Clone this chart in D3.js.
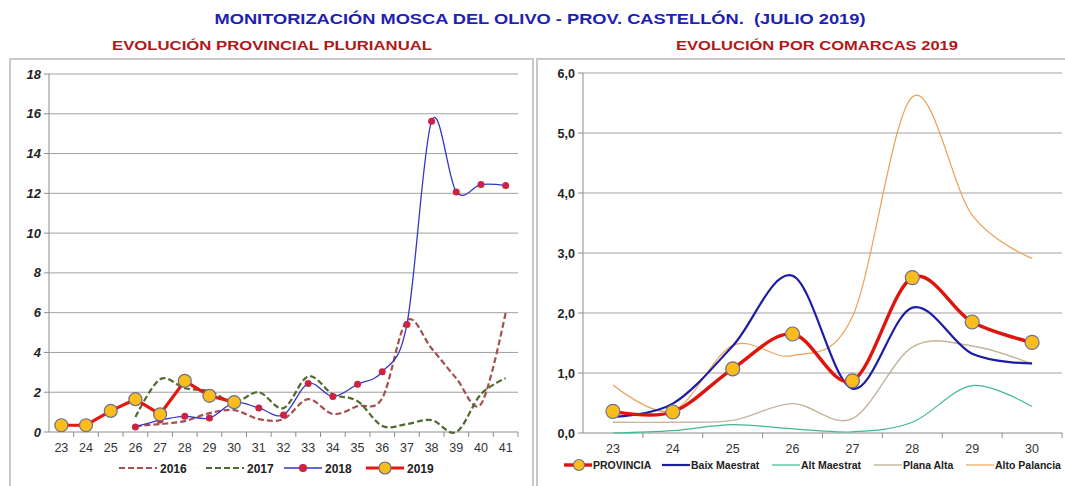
<!DOCTYPE html>
<html>
<head>
<meta charset="utf-8">
<title>mosca olivo</title>
<script src="https://cdn.jsdelivr.net/npm/d3@7"></script>
<style>
  body{margin:0;background:#fff;}
  svg{display:block;font-family:"Liberation Sans",Arial,sans-serif;}
  .pre{white-space:pre;}
</style>
</head>
<body>
<svg id="chart" width="1065" height="486"></svg>
<script>
// ---- datos grafico izquierdo (semanas 23-41)
var semanas = [23,24,25,26,27,28,29,30,31,32,33,34,35,36,37,38,39,40,41];
var s2016 = [null,null,null,0.3,0.4,0.55,0.95,1.1,0.65,0.65,1.65,0.9,1.3,1.7,5.6,4.2,2.7,1.4,6.0];
var s2017 = [null,null,null,0.75,2.65,2.2,2.05,1.5,2.0,1.2,2.8,1.9,1.55,0.3,0.4,0.6,0.0,1.9,2.7];
var s2018 = [null,null,null,0.25,0.6,0.79,0.7,1.48,1.21,0.86,2.44,1.78,2.4,3.03,5.41,15.63,12.07,12.44,12.39];
var s2019 = [0.34,0.34,1.06,1.65,0.89,2.57,1.82,1.5];
var ticksIzq = [0,2,4,6,8,10,12,14,16,18];

// ---- datos grafico derecho (comarcas 2019)
var semanasCom = [23,24,25,26,27,28,29,30];
var provincia = [0.36,0.35,1.07,1.65,0.87,2.59,1.85,1.51];
var baixMaestrat = [0.27,0.49,1.45,2.62,0.74,2.09,1.32,1.16];
var altMaestrat = [0.0,0.04,0.14,0.07,0.02,0.18,0.79,0.44];
var planaAlta = [0.18,0.18,0.21,0.49,0.24,1.43,1.45,1.15];
var altoPalancia = [0.8,0.37,1.46,1.29,1.94,5.6,3.63,2.91];
var ticksDer = [0,1,2,3,4,5,6];

var svg = d3.select("#chart");

// titulos
svg.append("text").attr("class","pre").attr("x",540).attr("y",24).attr("text-anchor","middle")
  .attr("font-size",15).attr("font-weight","bold").attr("fill","#1f1fb4")
  .attr("textLength",651).attr("lengthAdjust","spacingAndGlyphs")
  .text("MONITORIZACIÓN MOSCA DEL OLIVO - PROV. CASTELLÓN.  (JULIO 2019)");
svg.append("text").attr("x",272).attr("y",50).attr("text-anchor","middle")
  .attr("font-size",13).attr("font-weight","bold").attr("fill","#b01818")
  .attr("textLength",320).attr("lengthAdjust","spacingAndGlyphs")
  .text("EVOLUCIÓN PROVINCIAL PLURIANUAL");
svg.append("text").attr("x",817).attr("y",50).attr("text-anchor","middle")
  .attr("font-size",13).attr("font-weight","bold").attr("fill","#b01818")
  .attr("textLength",282).attr("lengthAdjust","spacingAndGlyphs")
  .text("EVOLUCIÓN POR COMARCAS 2019");

// marcos
svg.append("rect").attr("x",10).attr("y",59).attr("width",523).attr("height",440)
  .attr("fill","none").attr("stroke","#c8c8c8").attr("stroke-width",2);
svg.append("rect").attr("x",537).attr("y",59).attr("width",540).attr("height",440)
  .attr("fill","none").attr("stroke","#c8c8c8").attr("stroke-width",2);

var suave = d3.curveCardinal.tension(0);

function ejes(g, x, y, ticks, fmt, yFont){
  var r = x.range();
  // rejilla
  g.selectAll(".grid").data(ticks.filter(function(d){return d>0;})).enter().append("line")
    .attr("x1",r[0]).attr("x2",r[1]).attr("y1",function(d){return y(d);}).attr("y2",function(d){return y(d);})
    .attr("stroke","#a0a0a0").attr("stroke-width",1);
  // eje y
  g.append("line").attr("x1",r[0]).attr("x2",r[0]).attr("y1",y(0)).attr("y2",y(ticks[ticks.length-1]))
    .attr("stroke","#8c8c8c");
  g.selectAll(".ytk").data(ticks).enter().append("line")
    .attr("x1",r[0]-5).attr("x2",r[0]).attr("y1",function(d){return y(d);}).attr("y2",function(d){return y(d);})
    .attr("stroke","#8c8c8c");
  g.selectAll(".ylab").data(ticks).enter().append("text")
    .attr("x",r[0]-8).attr("y",function(d){return y(d)+4.5;}).attr("text-anchor","end")
    .attr("font-size",yFont.size).attr("font-weight","bold").attr("font-style",yFont.style)
    .attr("fill","#222").text(fmt);
  // eje x
  g.append("line").attr("x1",r[0]).attr("x2",r[1]).attr("y1",y(0)).attr("y2",y(0)).attr("stroke","#8c8c8c");
  var bordes = x.domain().map(function(d){return x(d)+x.bandwidth();});
  g.selectAll(".xtk").data(bordes).enter().append("line")
    .attr("x1",function(d){return d;}).attr("x2",function(d){return d;})
    .attr("y1",y(0)).attr("y2",y(0)+5).attr("stroke","#8c8c8c");
  g.selectAll(".xlab").data(x.domain()).enter().append("text")
    .attr("x",function(d){return x(d)+x.bandwidth()/2;}).attr("y",y(0)+20)
    .attr("text-anchor","middle").attr("font-size",12.5).attr("fill","#333").text(function(d){return d;});
}

function serie(g, x, y, cats, vals, color, width, dash, curve){
  var pts = cats.map(function(c,i){return {c:c,v:vals[i]};}).filter(function(p){return p.v!==null;});
  var line = d3.line().x(function(p){return x(p.c)+x.bandwidth()/2;}).y(function(p){return y(p.v);}).curve(curve);
  g.append("path").datum(pts).attr("d",line).attr("fill","none").attr("stroke",color)
    .attr("stroke-width",width).attr("stroke-dasharray",dash).attr("stroke-linejoin","round");
  return pts;
}

function marcas(g, x, y, pts, r, fill, stroke, sw){
  g.selectAll(null).data(pts).enter().append("circle")
    .attr("cx",function(p){return x(p.c)+x.bandwidth()/2;}).attr("cy",function(p){return y(p.v);})
    .attr("r",r).attr("fill",fill).attr("stroke",stroke).attr("stroke-width",sw);
}

// ---------- grafico izquierdo
var gL = svg.append("g");
var xL = d3.scaleBand().domain(semanas).range([49,518]);
var yL = d3.scaleLinear().domain([0,18]).range([432,74]);
ejes(gL, xL, yL, ticksIzq, function(d){return d;}, {size:13, style:"italic"});

serie(gL, xL, yL, semanas, s2016, "#a5504c", 2.2, "6,3", suave);
serie(gL, xL, yL, semanas, s2017, "#4f6a2c", 2.2, "6,3", suave);
var p18 = serie(gL, xL, yL, semanas, s2018, "#3535c8", 1.3, null, suave);
marcas(gL, xL, yL, p18, 3.5, "#cc2244", "#cc2244", 0);
var p19 = serie(gL, xL, yL, semanas.slice(0,8), s2019, "#e8160c", 3.2, null, d3.curveLinear);
marcas(gL, xL, yL, p19, 6.5, "#fbbd1c", "#6d6d8c", 1.2);

// leyenda izquierda
var legL = [
  {t:"2016", x:119, c:"#a5504c", w:2.2, d:"6,3"},
  {t:"2017", x:206, c:"#4f6a2c", w:2.2, d:"6,3"},
  {t:"2018", x:284, c:"#3535c8", w:1.3, d:null, m:{r:3.5,f:"#cc2244",s:"#cc2244"}},
  {t:"2019", x:366, c:"#e8160c", w:3.2, d:null, m:{r:6,f:"#fbbd1c",s:"#6d6d8c"}}
];
legL.forEach(function(l){
  var yy = 468;
  gL.append("line").attr("x1",l.x).attr("x2",l.x+38).attr("y1",yy).attr("y2",yy)
    .attr("stroke",l.c).attr("stroke-width",l.w).attr("stroke-dasharray",l.d);
  if(l.m){ gL.append("circle").attr("cx",l.x+19).attr("cy",yy).attr("r",l.m.r)
    .attr("fill",l.m.f).attr("stroke",l.m.s).attr("stroke-width",1.2); }
  gL.append("text").attr("x",l.x+41).attr("y",yy+4.5).attr("font-size",12).attr("font-weight","bold")
    .attr("fill","#222").text(l.t);
});

// ---------- grafico derecho
var gR = svg.append("g");
var xR = d3.scaleBand().domain(semanasCom).range([583,1062]);
var yR = d3.scaleLinear().domain([0,6]).range([433,73]);
ejes(gR, xR, yR, ticksDer, function(d){return d3.format(".1f")(d).replace(".",",");}, {size:12.5, style:"normal"});

serie(gR, xR, yR, semanasCom, altoPalancia, "#e9a358", 1.2, null, suave);
serie(gR, xR, yR, semanasCom, planaAlta, "#c3b59e", 1.4, null, suave);
serie(gR, xR, yR, semanasCom, altMaestrat, "#3dbb8b", 1.2, null, suave);
serie(gR, xR, yR, semanasCom, baixMaestrat, "#1c1ca6", 2.2, null, suave);
var pProv = serie(gR, xR, yR, semanasCom, provincia, "#e0140e", 3.4, null, suave);
marcas(gR, xR, yR, pProv, 7, "#fbbd1c", "#6d6d8c", 1.2);

var legR = [
  {t:"PROVINCIA", x:564, c:"#e0140e", w:3.4, m:true},
  {t:"Baix Maestrat", x:662, c:"#1c1ca6", w:2.2},
  {t:"Alt Maestrat", x:772, c:"#3dbb8b", w:1.2},
  {t:"Plana Alta", x:874, c:"#c3b59e", w:1.4},
  {t:"Alto Palancia", x:966, c:"#e9a358", w:1.2}
];
legR.forEach(function(l){
  var yy = 465;
  gR.append("line").attr("x1",l.x).attr("x2",l.x+28).attr("y1",yy).attr("y2",yy)
    .attr("stroke",l.c).attr("stroke-width",l.w);
  if(l.m){ gR.append("circle").attr("cx",l.x+15).attr("cy",yy).attr("r",5.5)
    .attr("fill","#fbbd1c").attr("stroke","#6d6d8c").attr("stroke-width",1.2); }
  gR.append("text").attr("x",l.x+29).attr("y",yy+4).attr("font-size",10.5).attr("font-weight","bold")
    .attr("fill","#222").text(l.t);
});
</script>
</body>
</html>
